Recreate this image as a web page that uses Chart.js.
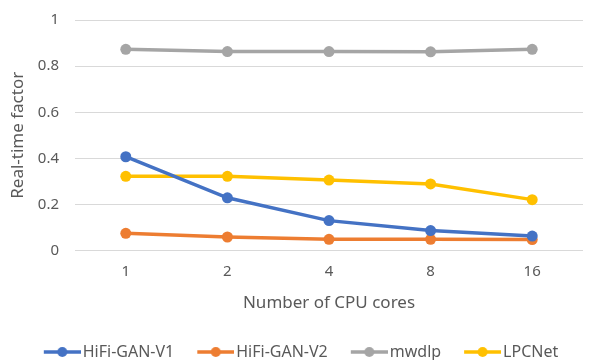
<!DOCTYPE html>
<html>
<head>
<meta charset="utf-8">
<script src="https://cdn.jsdelivr.net/npm/chart.js@4"></script>
<style>
  html, body { margin: 0; padding: 0; background: #fff; }
  #wrap { width: 589px; height: 360px; }
</style>
</head>
<body>
<div id="wrap"><canvas id="rtfChart"></canvas></div>
<script>
// Real-time factor vs number of CPU cores
const cores = ['1', '2', '4', '8', '16'];
const hifiganV1 = [0.407, 0.229, 0.130, 0.087, 0.063];
const hifiganV2 = [0.075, 0.059, 0.049, 0.049, 0.048];
const mwdlp = [0.873, 0.863, 0.863, 0.862, 0.873];
const lpcnet = [0.322, 0.322, 0.306, 0.289, 0.221];
const yTicks = [0, 0.2, 0.4, 0.6, 0.8, 1];

const textColor = '#595959';
const fontFamily = '"Noto Sans", sans-serif';

// legend marker: short line with a dot, drawn at the right end of a wider canvas
// so it sits close to its label text
function legendMarker(color) {
    const c = document.createElement('canvas');
    c.width = 56;
    c.height = 12;
    const ctx = c.getContext('2d');
    ctx.strokeStyle = color;
    ctx.lineWidth = 3.5;
    ctx.beginPath();
    ctx.moveTo(19, 6);
    ctx.lineTo(56, 6);
    ctx.stroke();
    ctx.fillStyle = color;
    ctx.beginPath();
    ctx.arc(37.5, 6, 5, 0, Math.PI * 2);
    ctx.fill();
    return c;
}

function series(label, data, color) {
    return {
        label: label,
        data: data,
        borderColor: color,
        backgroundColor: color,
        borderWidth: 3.5,
        pointRadius: 5.5,
        pointHoverRadius: 6,
        pointBackgroundColor: color,
        pointBorderWidth: 0,
        tension: 0,
        fill: false
    };
}

new Chart(document.getElementById('rtfChart'), {
    type: 'line',
    data: {
        labels: cores,
        datasets: [
            series('HiFi-GAN-V1', hifiganV1, '#4472C4'),
            series('HiFi-GAN-V2', hifiganV2, '#ED7D31'),
            series('mwdlp', mwdlp, '#A5A5A5'),
            series('LPCNet', lpcnet, '#FFC000')
        ]
    },
    options: {
        responsive: true,
        maintainAspectRatio: false,
        animation: false,
        layout: { padding: { top: 0, right: 0, left: 0, bottom: -10 } },
        plugins: {
            tooltip: { enabled: false },
            legend: {
                position: 'bottom',
                labels: {
                    color: textColor,
                    font: { family: fontFamily, size: 16 },
                    usePointStyle: true,
                    pointStyleWidth: 44,
                    padding: 10,
                    generateLabels: function(chart) {
                        return chart.data.datasets.map((ds, i) => ({
                            text: ds.label,
                            fillStyle: ds.borderColor,
                            strokeStyle: ds.borderColor,
                            fontColor: textColor,
                            pointStyle: legendMarker(ds.borderColor),
                            hidden: false,
                            datasetIndex: i
                        }));
                    }
                }
            }
        },
        scales: {
            x: {
                offset: true,
                grid: { display: false, drawTicks: false },
                border: { display: false },
                ticks: {
                    color: textColor,
                    font: { family: fontFamily, size: 15 },
                    padding: 12
                },
                title: {
                    display: true,
                    text: 'Number of CPU cores',
                    color: textColor,
                    font: { family: fontFamily, size: 17 },
                    padding: { top: 0, bottom: 21 }
                }
            },
            y: {
                min: 0,
                max: 1,
                afterBuildTicks: function(scale) {
                    scale.ticks = yTicks.map(v => ({ value: v }));
                },
                afterFit: function(scale) {
                    scale.width = 75;
                    scale.paddingTop = 20;
                },
                grid: { color: '#d9d9d9', lineWidth: 1, drawTicks: false },
                border: { display: false },
                ticks: {
                    color: textColor,
                    font: { family: fontFamily, size: 15 },
                    padding: 16,
                    callback: function(value) { return String(value); }
                },
                title: {
                    display: true,
                    text: 'Real-time factor',
                    color: textColor,
                    font: { family: fontFamily, size: 17 },
                    padding: { top: 8, bottom: 0 }
                }
            }
        }
    }
});
</script>
</body>
</html>
